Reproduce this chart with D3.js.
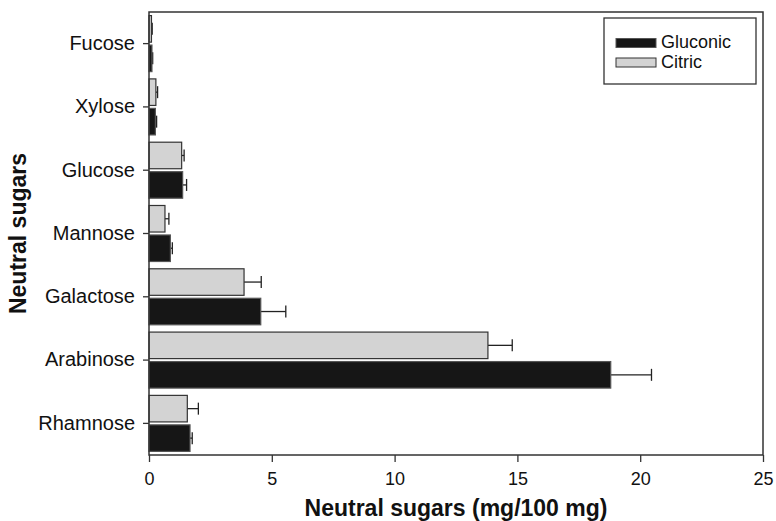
<!DOCTYPE html>
<html>
<head>
<meta charset="utf-8">
<script src="https://cdn.jsdelivr.net/npm/d3@7"></script>
<style>
  html, body { margin: 0; padding: 0; background: #fff; }
  svg { display: block; font-family: "Liberation Sans", Arial, Helvetica, sans-serif; }
</style>
</head>
<body>
<svg id="chart" width="776" height="521"></svg>
<script>
// Neutral sugar content by extraction acid
const sugars = ["Fucose", "Xylose", "Glucose", "Mannose", "Galactose", "Arabinose", "Rhamnose"];
const gluconic = [0.12, 0.26, 1.37, 0.87, 4.55, 18.8, 1.67];
const gluconicErr = [0.03, 0.05, 0.16, 0.08, 1.02, 1.66, 0.09];
const citric = [0.1, 0.28, 1.33, 0.65, 3.87, 13.8, 1.56];
const citricErr = [0.03, 0.07, 0.1, 0.16, 0.7, 0.99, 0.45];
const xTicks = [0, 5, 10, 15, 20, 25];
const seriesNames = ["Gluconic", "Citric"];

const svg = d3.select("#chart");
const margin = { left: 149, right: 13, top: 12, bottom: 66 };
const W = 776, H = 521;
const x0 = margin.left, x1 = W - margin.right, y0 = margin.top, y1 = H - margin.bottom;

const x = d3.scaleLinear().domain([0, 25]).range([x0, x1]);
const y = d3.scaleBand().domain(sugars).range([y0, y1]).paddingInner(0.115).paddingOuter(0.057);
// within a category: Citric on top, Gluconic beneath
const sub = d3.scaleBand().domain(["Citric", "Gluconic"]).range([0, y.bandwidth()]).paddingInner(0.1);

const colors = { Gluconic: "#161616", Citric: "#d3d3d3" };
const strokes = { Gluconic: "#555", Citric: "#333" };

const rows = sugars.map((s, i) => ({ s, vals: [
  { k: "Citric", v: citric[i], e: citricErr[i] },
  { k: "Gluconic", v: gluconic[i], e: gluconicErr[i] }
]}));

const g = svg.append("g");

// error bars (right side only)
rows.forEach(r => {
  r.vals.forEach(d => {
    const cy = y(r.s) + sub(d.k) + sub.bandwidth() / 2;
    g.append("line").attr("x1", x(d.v)).attr("x2", x(d.v + d.e))
      .attr("y1", cy).attr("y2", cy).attr("stroke", "#222").attr("stroke-width", 1.3);
    g.append("line").attr("x1", x(d.v + d.e)).attr("x2", x(d.v + d.e))
      .attr("y1", cy - 6).attr("y2", cy + 6).attr("stroke", "#222").attr("stroke-width", 1.3);
  });
});

// bars
rows.forEach(r => {
  g.selectAll(null).data(r.vals).join("rect")
    .attr("x", x(0))
    .attr("y", d => y(r.s) + sub(d.k))
    .attr("width", d => x(d.v) - x(0))
    .attr("height", sub.bandwidth())
    .attr("fill", d => colors[d.k])
    .attr("stroke", d => strokes[d.k])
    .attr("stroke-width", 1.2);
});

// plot frame
svg.append("rect").attr("x", x0).attr("y", y0).attr("width", x1 - x0).attr("height", y1 - y0)
  .attr("fill", "none").attr("stroke", "#333").attr("stroke-width", 1.5);

// x axis
const xAxis = svg.append("g").attr("transform", `translate(0,${y1})`)
  .call(d3.axisBottom(x).tickValues(xTicks).tickSize(7).tickPadding(10).tickFormat(d3.format("d")));
xAxis.select(".domain").remove();
xAxis.selectAll("line").attr("stroke", "#333").attr("stroke-width", 1.3);
xAxis.selectAll("text").attr("font-size", 18).attr("fill", "#111");

// y axis
const yAxis = svg.append("g").attr("transform", `translate(${x0},0)`)
  .call(d3.axisLeft(y).tickSize(6).tickPadding(8));
yAxis.select(".domain").remove();
yAxis.selectAll("line").attr("stroke", "#333").attr("stroke-width", 1.3);
yAxis.selectAll("text").attr("font-size", 20).attr("fill", "#111");

// axis titles
svg.append("text").attr("x", (x0 + x1) / 2).attr("y", 516).attr("text-anchor", "middle")
  .attr("font-size", 23).attr("font-weight", "bold").attr("fill", "#111")
  .text("Neutral sugars (mg/100 mg)");
svg.append("text").attr("transform", `translate(26,${(y0 + y1) / 2}) rotate(-90)`)
  .attr("text-anchor", "middle").attr("font-size", 23).attr("font-weight", "bold").attr("fill", "#111")
  .text("Neutral sugars");

// legend
const lg = svg.append("g").attr("transform", "translate(604,18)");
lg.append("rect").attr("width", 152).attr("height", 66).attr("fill", "#fff")
  .attr("stroke", "#333").attr("stroke-width", 1.3);
seriesNames.forEach((n, i) => {
  const yy = 20.5 + i * 19.5;
  lg.append("rect").attr("x", 12).attr("y", yy).attr("width", 40).attr("height", 9)
    .attr("fill", colors[n]).attr("stroke", strokes[n]).attr("stroke-width", 1);
  lg.append("text").attr("x", 57).attr("y", yy + 9.5).attr("font-size", 18).attr("fill", "#111").text(n);
});
</script>
</body>
</html>
